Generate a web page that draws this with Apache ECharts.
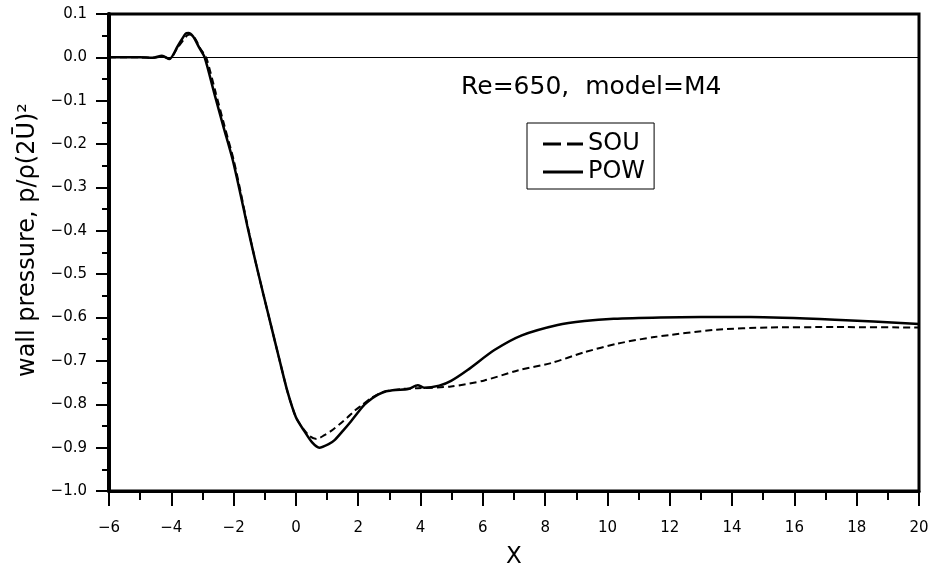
<!DOCTYPE html>
<html>
<head>
<meta charset="utf-8">
<script src="https://cdn.jsdelivr.net/npm/echarts@6/dist/echarts.min.js"></script>
<style>
html,body{margin:0;padding:0;background:#fff;}
#chart{width:933px;height:574px;}
</style>
</head>
<body>
<div id="chart"></div>
<script>
// ---- data ----
var xTicks = [-6, -4, -2, 0, 2, 4, 6, 8, 10, 12, 14, 16, 18, 20];
var yTicks = [-1.0, -0.9, -0.8, -0.7, -0.6, -0.5, -0.4, -0.3, -0.2, -0.1, 0.0, 0.1];

var xPow = [-6.0, -5.0, -4.6, -4.3, -4.06, -3.8, -3.55, -3.45, -3.3, -3.1, -2.93, -2.62, -2.33, -2.03, -1.79, -1.56, -1.30, -1.05, -0.80, -0.54, -0.27, 0.0, 0.27, 0.52, 0.75, 1.05, 1.25, 1.5, 1.77, 2.0, 2.2, 2.45, 2.65, 2.9, 3.2, 3.6, 3.91, 4.12, 4.6, 4.98, 5.51, 6.37, 7.25, 8.4, 9.26, 10.2, 11.7, 13.0, 14.6, 17.3, 20.0];
var yPow = [0.0, 0.0, -0.001, 0.004, -0.004, 0.025, 0.054, 0.056, 0.048, 0.022, 0.0, -0.083, -0.159, -0.236, -0.312, -0.389, -0.470, -0.545, -0.618, -0.694, -0.771, -0.830, -0.862, -0.888, -0.900, -0.892, -0.882, -0.862, -0.839, -0.818, -0.801, -0.786, -0.777, -0.770, -0.767, -0.765, -0.756, -0.762, -0.757, -0.746, -0.721, -0.675, -0.641, -0.617, -0.608, -0.603, -0.600, -0.599, -0.599, -0.605, -0.615];

var xSou = [-6.0, -5.0, -4.6, -4.3, -4.05, -3.8, -3.5, -3.4, -3.25, -3.05, -2.88, -2.57, -2.29, -2.0, -1.77, -1.55, -1.30, -1.05, -0.80, -0.54, -0.27, 0.0, 0.25, 0.45, 0.66, 0.9, 1.12, 1.4, 1.66, 1.9, 2.1, 2.41, 2.83, 3.37, 3.91, 4.98, 6.05, 7.12, 8.19, 9.26, 10.33, 11.5, 13.5, 15.2, 17.3, 20.0];
var ySou = [0.0, 0.0, -0.001, 0.002, -0.003, 0.022, 0.050, 0.053, 0.045, 0.018, 0.0, -0.083, -0.159, -0.236, -0.312, -0.389, -0.470, -0.545, -0.618, -0.694, -0.771, -0.830, -0.858, -0.874, -0.880, -0.872, -0.862, -0.846, -0.830, -0.814, -0.803, -0.786, -0.771, -0.765, -0.763, -0.759, -0.745, -0.722, -0.705, -0.680, -0.660, -0.645, -0.628, -0.623, -0.622, -0.623];

var seriesNames = ['SOU', 'POW'];
var annotation = 'Re=650,  model=M4';
var xTitle = 'X';
var yTitle = 'wall pressure, p/\u03c1(2\u016a)\u00b2';

function pairs(xs, ys) {
  var out = [];
  for (var i = 0; i < xs.length; i++) out.push([xs[i], ys[i]]);
  return out;
}
function fmt(v, d) {
  var r = Math.round(v * 1000) / 1000;
  var s = Math.abs(r).toFixed(d);
  return (r < 0 ? '\u2212' : '') + s;
}

var FONT = 'DejaVu Sans';
var chart = echarts.init(document.getElementById('chart'), null, {renderer: 'canvas'});
chart.setOption({
  animation: false,
  backgroundColor: '#fff',
  textStyle: {fontFamily: FONT, color: '#000'},
  title: {
    text: annotation,
    left: 461,
    top: 75,
    padding: 0,
    textStyle: {fontFamily: FONT, fontSize: 25, fontWeight: 'normal', color: '#000'}
  },
  legend: {
    orient: 'vertical',
    left: 527,
    top: 123,
    padding: [9, 9, 5, 16],
    itemWidth: 40,
    itemHeight: 3,
    itemGap: 4,
    itemTextGap: 10,
    borderColor: '#000',
    borderWidth: 1,
    borderRadius: 0,
    data: [
      {name: seriesNames[0], icon: 'path://M0,0h18v3h-18z M24,0h16v3h-16z'},
      {name: seriesNames[1], icon: 'path://M0,0h40v3h-40z'}
    ],
    textStyle: {fontFamily: FONT, fontSize: 24, color: '#000'}
  },
  grid: {
    left: 109, right: 14, top: 14, bottom: 81,
    show: true, borderColor: '#000', borderWidth: 3, backgroundColor: 'transparent'
  },
  xAxis: {
    type: 'value',
    min: xTicks[0], max: xTicks[xTicks.length - 1], interval: 2,
    name: xTitle, nameLocation: 'middle', nameGap: 55,
    nameTextStyle: {fontFamily: FONT, fontSize: 23, color: '#000'},
    axisLine: {show: true, onZero: false, lineStyle: {color: '#000', width: 3}},
    axisTick: {show: true, inside: false, length: 15, lineStyle: {color: '#000', width: 2}},
    minorTick: {show: true, splitNumber: 2, length: 9, lineStyle: {color: '#000', width: 2}},
    splitLine: {show: false},
    axisLabel: {margin: 30, fontFamily: FONT, fontSize: 15, color: '#000',
      formatter: function (v) { return fmt(v, 0); }}
  },
  yAxis: {
    type: 'value',
    min: yTicks[0], max: yTicks[yTicks.length - 1], interval: 0.1,
    name: yTitle, nameLocation: 'middle', nameGap: 66, nameRotate: 90,
    nameTextStyle: {fontFamily: FONT, fontSize: 24, color: '#000', padding: [0, 0, 0, 25]},
    axisLine: {show: true, onZero: false, lineStyle: {color: '#000', width: 4}},
    axisTick: {show: true, inside: false, length: 13, lineStyle: {color: '#000', width: 2}},
    minorTick: {show: true, splitNumber: 2, length: 7, lineStyle: {color: '#000', width: 2}},
    splitLine: {show: false},
    axisLabel: {margin: 22, fontFamily: FONT, fontSize: 15, color: '#000',
      formatter: function (v) { return fmt(v, 1); }}
  },
  series: [
    {
      name: seriesNames[0], type: 'line', data: pairs(xSou, ySou),
      showSymbol: false, symbol: 'none', smooth: 0.25,
      lineStyle: {color: '#000', width: 2, type: [7, 4]},
      itemStyle: {color: '#000'}
    },
    {
      name: seriesNames[1], type: 'line', data: pairs(xPow, yPow),
      showSymbol: false, symbol: 'none', smooth: 0.25,
      lineStyle: {color: '#000', width: 2.5, type: 'solid'},
      itemStyle: {color: '#000'},
      markLine: {
        silent: true, symbol: 'none', label: {show: false},
        lineStyle: {color: '#000', width: 1, type: 'solid'},
        data: [{yAxis: 0}]
      }
    }
  ]
});
</script>
</body>
</html>
